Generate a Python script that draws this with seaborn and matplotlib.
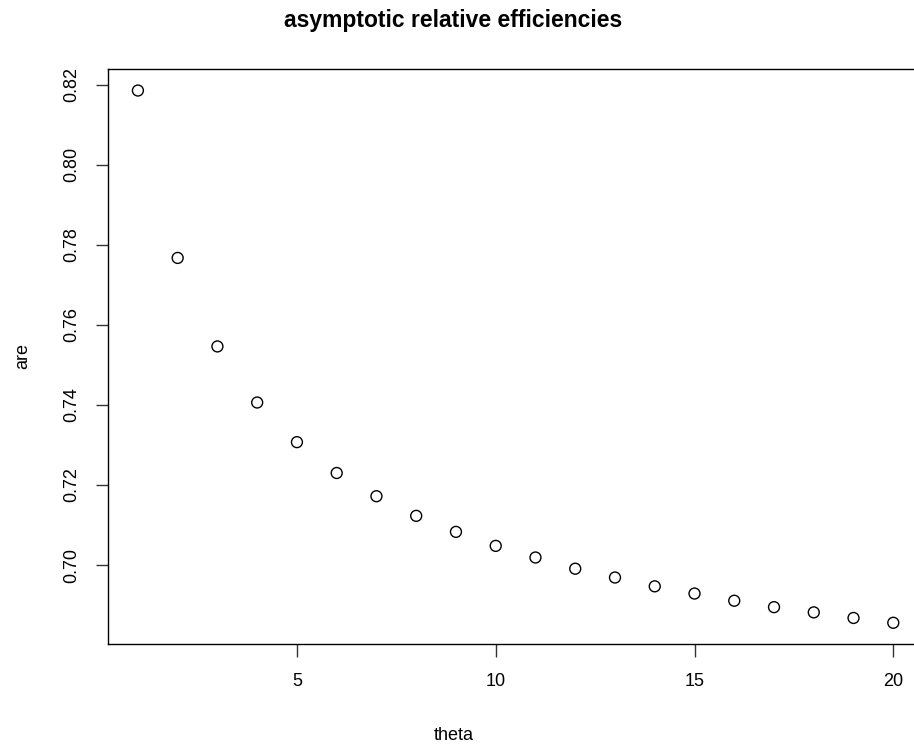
import numpy as np
import pandas as pd
import matplotlib
matplotlib.use("Agg")
import matplotlib.pyplot as plt
import seaborn as sns

# values
theta = list(range(1, 21))
are = [0.8185, 0.7767, 0.7546, 0.7406, 0.7307, 0.7230, 0.7172, 0.7123, 0.7083, 0.7048,
       0.7019, 0.6991, 0.6969, 0.6947, 0.6929, 0.6911, 0.6895, 0.6882, 0.6868, 0.6856]
x_ticks = [5, 10, 15, 20]
y_ticks = [0.70, 0.72, 0.74, 0.76, 0.78, 0.80, 0.82]

df = pd.DataFrame({"theta": theta, "are": are})

sns.set_style("white")
plt.rcParams["font.family"] = ["Liberation Sans", "DejaVu Sans"]
plt.rcParams["text.color"] = "black"

fig = plt.figure(figsize=(9.14, 7.48), dpi=100)
W, H = 914, 748
# plot region in pixels (right edge runs past the image, as in the reference)
left, right, top, bottom = 107.7, 923.5, 69.3, 644.0
ax = fig.add_axes([left / W, 1 - bottom / H, (right - left) / W, (bottom - top) / H])

sns.scatterplot(data=df, x="theta", y="are", ax=ax, marker="o", s=62,
                facecolor="none", edgecolor="black", linewidth=1.0)

ax.set_xlim(0.24, 20.76)
ax.set_ylim(0.6803, 0.8238)
ax.set_xticks(x_ticks)
ax.set_xticklabels([str(t) for t in x_ticks])
ax.set_yticks(y_ticks)
ax.set_yticklabels([f"{t:.2f}" for t in y_ticks], rotation=90, va="center")

for sp in ax.spines.values():
    sp.set_color("black")
    sp.set_linewidth(1.0)

ax.tick_params(axis="both", direction="out", length=9, width=1.0, color="#333333",
               labelsize=13, labelcolor="black", bottom=True, left=True)
ax.tick_params(axis="x", pad=12)
ax.tick_params(axis="y", pad=11)

ax.set_xlabel("")
ax.set_ylabel("")
fig.text(453.5 / W, 1 - 740 / H, "theta", ha="center", va="baseline", fontsize=13,
         color="black")
fig.text(23 / W, 1 - 356 / H, "are", ha="center", va="center", rotation=90, fontsize=13,
         color="black")
fig.text(453.5 / W, 1 - 27 / H, "asymptotic relative efficiencies", ha="center",
         va="baseline", fontsize=16.5, fontweight="bold", color="black")

fig.savefig("out.png", dpi=100)
